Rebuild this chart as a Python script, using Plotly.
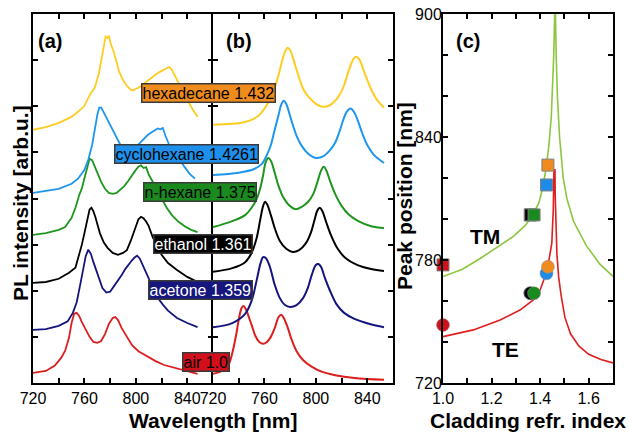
import plotly.graph_objects as go

# ---------------- Panel (a): measured PL spectra (offset, arb. u.) ----------------
A_AIR_WL = [720, 730, 737, 742, 745, 748, 750, 752, 754, 756, 758, 761, 764, 767, 770, 773, 776, 779, 782, 784, 786, 789, 793, 797, 802, 808, 815, 822, 830, 838, 848]
A_AIR_PL = [0.22, 0.26, 0.38, 0.55, 0.70, 0.98, 1.30, 1.50, 1.52, 1.45, 1.32, 1.15, 1.00, 0.89, 0.87, 0.91, 1.06, 1.28, 1.41, 1.43, 1.37, 1.19, 1.00, 0.82, 0.69, 0.59, 0.48, 0.39, 0.33, 0.26, 0.20]

A_ACE_WL = [720, 730, 740, 747, 751, 754, 757, 759, 761, 763, 765, 767, 769, 771, 774, 777, 780, 783, 786, 789, 792, 795, 797, 799, 801, 803, 805, 807, 810, 813, 817, 821, 825, 832, 840, 848]
A_ACE_PL = [1.15, 1.17, 1.24, 1.34, 1.52, 1.75, 2.17, 2.47, 2.75, 2.89, 2.80, 2.62, 2.45, 2.28, 2.06, 1.96, 1.98, 2.10, 2.21, 2.34, 2.48, 2.60, 2.66, 2.72, 2.76, 2.70, 2.58, 2.47, 2.27, 2.05, 1.85, 1.70, 1.57, 1.41, 1.30, 1.21]

A_ETH_WL = [720, 730, 740, 748, 753, 756, 758, 760, 762, 764, 765.5, 767, 768.5, 770, 772, 775, 778, 782, 786, 790, 793, 796, 798, 800, 802, 804, 806, 808, 810, 813, 816, 820, 825, 832, 840, 848]
A_ETH_PL = [2.17, 2.19, 2.26, 2.39, 2.50, 2.78, 3.00, 3.25, 3.50, 3.76, 3.80, 3.72, 3.60, 3.45, 3.25, 3.05, 2.93, 2.82, 2.78, 2.82, 2.88, 3.08, 3.25, 3.42, 3.55, 3.60, 3.57, 3.50, 3.40, 3.17, 3.00, 2.78, 2.60, 2.45, 2.30, 2.19]

A_HEX_WL = [720, 730, 740, 745, 750, 753, 756, 758, 760, 762, 764, 766, 768, 770, 773, 776, 779, 782, 785, 788, 791, 794, 797, 800, 802, 804, 806, 808, 810, 813, 816, 820, 824, 828, 833, 838, 843, 848]
A_HEX_PL = [3.21, 3.25, 3.32, 3.38, 3.58, 3.80, 4.08, 4.22, 4.44, 4.68, 4.86, 4.83, 4.71, 4.56, 4.36, 4.21, 4.12, 4.10, 4.12, 4.19, 4.27, 4.38, 4.51, 4.62, 4.69, 4.72, 4.66, 4.68, 4.52, 4.38, 4.22, 4.00, 3.80, 3.64, 3.50, 3.40, 3.32, 3.27]

A_CYC_WL = [720, 730, 740, 750, 755, 760, 763, 766, 768, 770, 771.5, 773, 774, 776, 779, 782, 785, 788, 791, 794, 797, 800, 803, 806, 809, 812, 815, 817, 819, 821, 823, 826, 830, 834, 838, 842, 846]
A_CYC_PL = [4.12, 4.16, 4.21, 4.32, 4.43, 4.62, 4.84, 5.16, 5.49, 5.81, 5.97, 5.97, 5.92, 5.81, 5.64, 5.47, 5.31, 5.16, 5.08, 5.05, 5.07, 5.12, 5.20, 5.29, 5.37, 5.43, 5.49, 5.52, 5.50, 5.53, 5.36, 5.16, 4.99, 4.85, 4.68, 4.53, 4.43]

A_HXD_WL = [720, 730, 740, 750, 755, 760, 765, 768, 771, 773, 775, 776.5, 778, 779, 780.5, 783, 785, 787, 790, 793, 796, 798, 800, 802, 804, 807, 810, 813, 816, 819, 822, 824, 826, 828, 830, 833, 836, 840, 844, 848]
A_HXD_PL = [5.49, 5.55, 5.64, 5.77, 5.88, 6.01, 6.29, 6.40, 6.68, 6.96, 7.27, 7.51, 7.48, 7.53, 7.35, 7.16, 6.96, 6.75, 6.57, 6.44, 6.36, 6.34, 6.38, 6.40, 6.44, 6.51, 6.57, 6.64, 6.70, 6.75, 6.79, 6.81, 6.85, 6.79, 6.68, 6.51, 6.33, 6.14, 5.94, 5.77]

# ---------------- Panel (b): simulated spectra ----------------
B_AIR_WL = [720, 727, 732, 735, 738, 740, 742, 743.5, 745, 747, 750, 753, 756, 759, 762, 765, 768, 771, 773, 775, 778, 781, 785, 790, 797, 805, 815, 830, 853]
B_AIR_PL = [0.20, 0.26, 0.39, 0.65, 1.04, 1.37, 1.61, 1.67, 1.63, 1.50, 1.26, 1.02, 0.89, 0.85, 0.89, 1.00, 1.19, 1.43, 1.48, 1.41, 1.21, 0.95, 0.69, 0.50, 0.35, 0.24, 0.17, 0.11, 0.07]

B_ACE_WL = [720, 735, 745, 750, 754, 757, 759, 761, 764, 768, 772, 776, 780, 785, 790, 794, 797, 800, 802, 804, 807, 811, 816, 822, 830, 842, 853]
B_ACE_PL = [1.21, 1.30, 1.50, 1.78, 2.23, 2.60, 2.73, 2.71, 2.54, 2.13, 1.84, 1.69, 1.65, 1.69, 1.84, 2.08, 2.36, 2.56, 2.58, 2.52, 2.28, 2.00, 1.71, 1.52, 1.39, 1.28, 1.21]

B_ETH_WL = [720, 735, 745, 750, 754, 757, 759, 760.5, 762, 765, 768, 772, 777, 782, 787, 792, 796, 799, 801, 803, 805, 808, 812, 817, 823, 832, 843, 853]
B_ETH_PL = [2.41, 2.49, 2.62, 2.82, 3.15, 3.58, 3.84, 3.93, 3.88, 3.64, 3.36, 3.08, 2.91, 2.84, 2.88, 3.02, 3.25, 3.54, 3.73, 3.80, 3.73, 3.49, 3.19, 2.91, 2.71, 2.56, 2.47, 2.43]

B_HEX_WL = [720, 735, 745, 750, 754, 757, 759, 761, 763, 765, 768, 771, 775, 779, 784, 789, 794, 798, 801, 804, 806, 808, 811, 815, 820, 826, 833, 843, 853]
B_HEX_PL = [3.38, 3.51, 3.64, 3.80, 3.99, 4.25, 4.51, 4.79, 4.88, 4.82, 4.56, 4.27, 4.01, 3.86, 3.77, 3.82, 3.93, 4.10, 4.34, 4.60, 4.69, 4.62, 4.38, 4.10, 3.84, 3.64, 3.51, 3.40, 3.36]

B_CYC_WL = [720, 740, 752, 758, 762, 765, 768, 771, 773, 775, 777, 779, 782, 785, 789, 794, 800, 806, 811, 815, 818, 821, 824, 827, 830, 833, 836, 840, 845, 853]
B_CYC_PL = [4.51, 4.56, 4.64, 4.75, 4.95, 5.16, 5.49, 5.81, 6.03, 6.12, 6.05, 5.88, 5.60, 5.36, 5.14, 4.97, 4.88, 4.92, 5.05, 5.21, 5.42, 5.68, 5.88, 5.95, 5.86, 5.66, 5.42, 5.16, 4.95, 4.77]

B_HXD_WL = [720, 735, 745, 752, 757, 761, 765, 768, 771, 774, 776, 778, 780, 782, 785, 788, 791, 795, 800, 805, 810, 815, 819, 822, 825, 828, 830, 832, 834, 837, 840, 844, 848, 853]
B_HXD_PL = [5.60, 5.62, 5.66, 5.73, 5.84, 5.99, 6.18, 6.40, 6.68, 7.01, 7.18, 7.27, 7.22, 7.07, 6.79, 6.53, 6.33, 6.18, 6.05, 5.99, 6.01, 6.12, 6.27, 6.46, 6.72, 6.96, 7.05, 7.07, 7.01, 6.79, 6.57, 6.31, 6.12, 5.97]

# ---------------- Panel (c): peak position vs cladding index ----------------
TM_N = [1.0, 1.08, 1.15, 1.22, 1.29, 1.34, 1.37, 1.395, 1.41, 1.425, 1.437, 1.446, 1.452, 1.456, 1.46, 1.4615, 1.463, 1.466, 1.471, 1.48, 1.495, 1.51, 1.537, 1.59, 1.646, 1.70]
TM_WL = [771.9, 775.5, 780.5, 786.0, 791.5, 797.0, 802.0, 808.0, 815.0, 825.0, 837.0, 850.0, 865.0, 880.0, 900.0, 910.0, 900.0, 880.0, 860.0, 840.0, 820.0, 810.0, 799.0, 787.0, 778.0, 772.0]

TE_N = [1.0, 1.125, 1.235, 1.317, 1.372, 1.40, 1.42, 1.434, 1.448, 1.454, 1.457, 1.461, 1.462, 1.465, 1.469, 1.476, 1.486, 1.502, 1.525, 1.56, 1.60, 1.65, 1.70]
TE_WL = [742.6, 745.9, 750.7, 755.6, 760.5, 765.4, 771.9, 778.4, 788.1, 804.4, 824.0, 824.0, 812.0, 800.0, 783.0, 772.0, 763.0, 752.0, 744.0, 738.0, 734.0, 731.5, 729.8]

LIQ_NAMES = ["air", "acetone", "ethanol", "n-hexane", "cyclohexane", "hexadecane"]
LIQ_N = [1.0, 1.359, 1.361, 1.375, 1.4261, 1.432]
LIQ_LABELS = ["air 1.0", "acetone 1.359", "ethanol 1.361", "n-hexane 1.375", "cyclohexane 1.4261", "hexadecane 1.432"]
PEAK_TM = [777.6, 802.0, 802.0, 802.0, 816.6, 826.3]
PEAK_TE = [748.3, 763.8, 763.8, 763.8, 773.5, 776.7]

LINE_COLORS = ["#DC1E1E", "#14147F", "#000000", "#1E961E", "#1E96EE", "#FFCC22"]
BOX_COLORS = ["#D2101C", "#16167E", "#000000", "#1A8A1E", "#1E90EC", "#F08C1E"]
MARK_COLORS = ["#D2101C", "#16167E", "#000000", "#1A8A1E", "#1E8CE6", "#F08C1E"]
BOX_TEXT = ["black", "white", "white", "black", "black", "black"]

A_WL = [A_AIR_WL, A_ACE_WL, A_ETH_WL, A_HEX_WL, A_CYC_WL, A_HXD_WL]
A_PL = [A_AIR_PL, A_ACE_PL, A_ETH_PL, A_HEX_PL, A_CYC_PL, A_HXD_PL]
B_WL = [B_AIR_WL, B_ACE_WL, B_ETH_WL, B_HEX_WL, B_CYC_WL, B_HXD_WL]
B_PL = [B_AIR_PL, B_ACE_PL, B_ETH_PL, B_HEX_PL, B_CYC_PL, B_HXD_PL]

W, H = 629, 433
FONT = "Liberation Sans, Arial, sans-serif"


def px(x):
    return x / W


def py(y):
    return 1 - y / H


fig = go.Figure()

for i in range(6):
    fig.add_trace(go.Scatter(x=A_WL[i], y=A_PL[i], mode="lines", xaxis="x", yaxis="y",
                             line=dict(color=LINE_COLORS[i], width=1.8), showlegend=False))
    fig.add_trace(go.Scatter(x=B_WL[i], y=B_PL[i], mode="lines", xaxis="x2", yaxis="y2",
                             line=dict(color=LINE_COLORS[i], width=2), showlegend=False,
                             line_shape="spline"))

# helper trace so that the right-hand tick axis of panel (a) is drawn
fig.add_trace(go.Scatter(x=[None], y=[None], xaxis="x", yaxis="y4", showlegend=False))

fig.add_trace(go.Scatter(x=TM_N, y=TM_WL, mode="lines", xaxis="x3", yaxis="y3",
                         line=dict(color="#8CC63F", width=1.6), showlegend=False))
fig.add_trace(go.Scatter(x=TE_N, y=TE_WL, mode="lines", xaxis="x3", yaxis="y3",
                         line=dict(color="#E01E1E", width=1.6), showlegend=False))

for i in range(6):
    fig.add_trace(go.Scatter(x=[LIQ_N[i]], y=[PEAK_TM[i]], mode="markers", xaxis="x3", yaxis="y3",
                             marker=dict(symbol="square", size=12, color=MARK_COLORS[i],
                                         line=dict(color="#808080", width=1)),
                             showlegend=False, cliponaxis=False, name=LIQ_NAMES[i]))
    fig.add_trace(go.Scatter(x=[LIQ_N[i]], y=[PEAK_TE[i]], mode="markers", xaxis="x3", yaxis="y3",
                             marker=dict(symbol="circle", size=13, color=MARK_COLORS[i],
                                         line=dict(color="#909090", width=0.5)),
                             showlegend=False, cliponaxis=False, name=LIQ_NAMES[i]))

ydom = [py(383), py(14)]
common = dict(showline=True, linecolor="black", linewidth=2, mirror="ticks", ticks="inside",
              ticklen=5, tickwidth=1.5, tickcolor="black", showgrid=False, zeroline=False,
              automargin=False, tickfont=dict(family=FONT, size=16, color="black"))

wl_vals = [720, 740, 760, 780, 800, 820, 840, 860]
wl_text = ["720", "", "760", "", "800", "", "840", ""]
pl_vals = [1, 2, 3, 4, 5, 6, 7]

ya = dict(common)
ya["mirror"] = False

fig.update_layout(
    width=W, height=H, margin=dict(l=0, r=0, t=0, b=0),
    paper_bgcolor="white", plot_bgcolor="white",
    xaxis=dict(domain=[px(33), px(213)], range=[720, 860], tickvals=wl_vals, ticktext=wl_text,
               anchor="y", **common),
    yaxis=dict(domain=ydom, range=[0, 8], tickvals=pl_vals, showticklabels=False, anchor="x", **ya),
    yaxis4=dict(domain=ydom, range=[0, 8], tickvals=pl_vals, showticklabels=False, overlaying="y",
                side="right", anchor="x", showline=False, ticks="inside", ticklen=5, tickwidth=1.5,
                tickcolor="black", showgrid=False, zeroline=False, automargin=False),
    xaxis2=dict(domain=[px(213), px(393)], range=[720, 860], tickvals=wl_vals, ticktext=wl_text,
                anchor="y2", **common),
    yaxis2=dict(domain=ydom, range=[0, 8], tickvals=pl_vals, showticklabels=False, anchor="x2", **common),
    xaxis3=dict(domain=[px(443), px(613)], range=[1.0, 1.7],
                tickvals=[1.0, 1.1, 1.2, 1.3, 1.4, 1.5, 1.6, 1.7],
                ticktext=["1.0", "", "1.2", "", "1.4", "", "1.6", ""], anchor="y3", **common),
    yaxis3=dict(domain=ydom, range=[720, 900],
                tickvals=[720, 740, 760, 780, 800, 820, 840, 860, 880, 900],
                ticktext=["720", "", "", "780", "", "", "840", "", "", "900"], anchor="x3",
                ticklabelstandoff=-4, **common),
)

ann = []
label_pos = [(206, 362), (200.5, 290), (203, 244), (199.5, 192), (186, 154), (208.5, 93)]
for i in range(6):
    ann.append(dict(x=px(label_pos[i][0]), y=py(label_pos[i][1]), xref="paper", yref="paper",
                    text=LIQ_LABELS[i], showarrow=False, xanchor="center", yanchor="middle",
                    font=dict(family=FONT, size=16, color=BOX_TEXT[i]),
                    bgcolor=BOX_COLORS[i], bordercolor="#3A3A3A", borderwidth=1.5, borderpad=0))

texts = [
    ("(a)", 50, 41, 20, 0), ("(b)", 239, 41, 20, 0), ("(c)", 468, 41, 20, 0),
    ("TM", 485, 236, 21, 0), ("TE", 505, 349, 21, 0),
    ("Wavelength [nm]", 213, 420, 21, 0), ("Cladding refr. index", 528, 420, 21, 0),
    ("PL intensity [arb.u.]", 21, 203, 21, -90), ("Peak position [nm]", 404, 196, 21, -90),
]
for t, x, y, s, a in texts:
    ann.append(dict(x=px(x), y=py(y), xref="paper", yref="paper", text="<b>%s</b>" % t,
                    showarrow=False, xanchor="center", yanchor="middle", textangle=a,
                    font=dict(family=FONT, size=s, color="black")))

fig.update_layout(annotations=ann)
fig.write_html("out.html", config={"displayModeBar": False},
               post_script="document.body.style.margin='0';document.body.style.overflow='hidden';")
